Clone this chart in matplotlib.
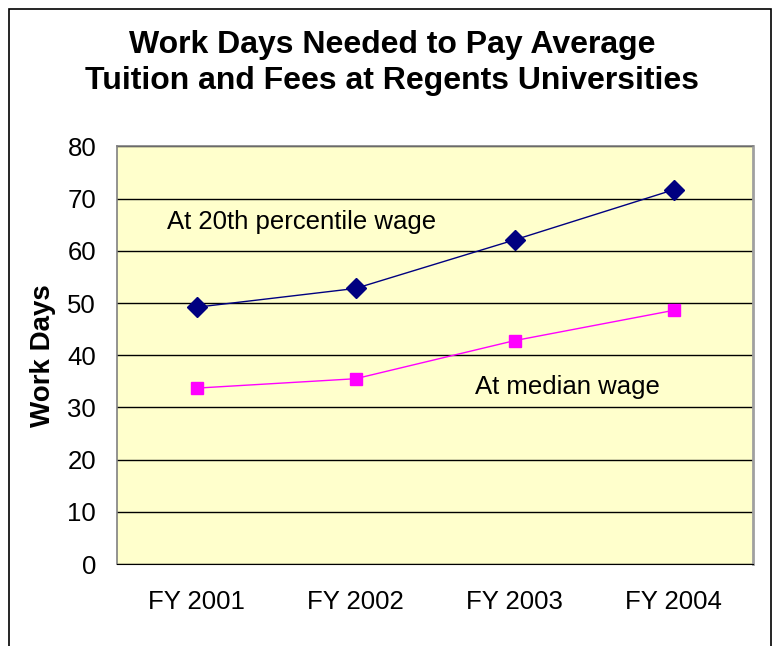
import matplotlib
matplotlib.use("Agg")
import matplotlib.pyplot as plt
from matplotlib.patches import Rectangle

plt.rcParams['font.family'] = ['Liberation Sans', 'DejaVu Sans']

categories = ["FY 2001", "FY 2002", "FY 2003", "FY 2004"]
pct20_wage = [49.2, 52.8, 62.1, 71.7]
median_wage = [33.7, 35.5, 42.8, 48.6]
yticks = [0, 10, 20, 30, 40, 50, 60, 70, 80]

W, H = 773, 646
fig = plt.figure(figsize=(W / 100, H / 100), dpi=100)

# outer frame
fig.patches.append(Rectangle((9 / W, -0.01), (770.5 - 9) / W, (H - 9) / H + 0.01,
                             transform=fig.transFigure, fill=False,
                             edgecolor='black', linewidth=1.2))

left, right, top, bottom = 117, 753, 146.5, 564
ax = fig.add_axes([left / W, 1 - bottom / H, (right - left) / W, (bottom - top) / H])
ax.set_facecolor('#FFFFCC')

x = list(range(len(categories)))
ax.plot(x, pct20_wage, color='#000080', linewidth=1, marker='D', markersize=10.5,
        markerfacecolor='#000080', markeredgecolor='#000080', zorder=3)
ax.plot(x, median_wage, color='#FF00FF', linewidth=1, marker='s', markersize=9,
        markerfacecolor='#FF00FF', markeredgecolor='#FF00FF', zorder=3)

ax.set_xlim(-0.5, len(categories) - 0.5)
ax.set_ylim(0, 80)
ax.set_yticks(yticks)
ax.set_yticklabels([str(v) for v in yticks], fontsize=18.5)
ax.set_xticks(x)
ax.set_xticklabels(categories, fontsize=18.5)
ax.tick_params(axis='both', length=0)
ax.tick_params(axis='y', pad=15)
ax.tick_params(axis='x', pad=19)
ax.yaxis.grid(True, color='black', linewidth=1)
ax.set_axisbelow(True)
for s in ['top', 'left']:
    ax.spines[s].set_color('#808080')
    ax.spines[s].set_linewidth(1.2)
ax.spines['bottom'].set_color('black')
ax.spines['right'].set_color('#A0A0A0')
ax.spines['right'].set_linewidth(2)

ax.set_ylabel("Work Days", fontsize=20, fontweight='bold', labelpad=8)

ax.text(-0.186, 65.5, "At 20th percentile wage", fontsize=18.5, ha='left', va='center')
ax.text(1.75, 33.9, "At median wage", fontsize=18.5, ha='left', va='center')

fig.text(392 / W, 1 - 63 / H, "Work Days Needed to Pay Average\nTuition and Fees at Regents Universities",
         ha='center', va='center', fontsize=23, fontweight='bold', linespacing=1.25)

fig.savefig("out.png", dpi=100)
